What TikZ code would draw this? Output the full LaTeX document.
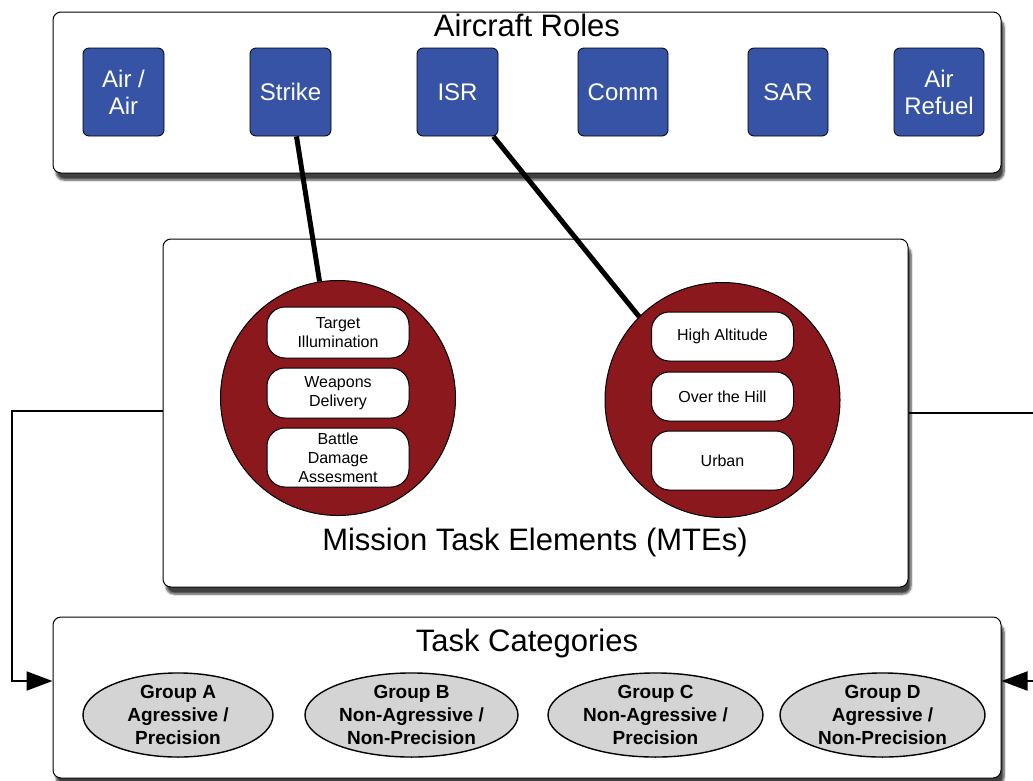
\documentclass[tikz,border=0pt]{standalone}
\usepackage{fontspec}
\setmainfont{Liberation Sans}
\usetikzlibrary{positioning,arrows.meta,shadows.blur,shapes.geometric}

\begin{document}
\begin{tikzpicture}[
  x=1pt, y=-1pt,
  >={Triangle[length=26pt, width=19pt]},
  panel/.style={draw, line width=1pt, rounded corners=8pt, fill=white,
                blur shadow={shadow xshift=3pt, shadow yshift=-7pt,
                             shadow blur steps=6, shadow opacity=75}},
  heading/.style={inner sep=0pt, font=\fontsize{31}{34}\selectfont},
  role/.style={draw, line width=0.8pt, rounded corners=6pt, fill=roleblue,
               text=white, align=center, minimum height=88pt,
               font=\fontsize{24}{27}\selectfont},
  mte/.style={circle, draw, line width=1pt, fill=mtered, minimum size=235pt},
  task/.style={draw, line width=1pt, rounded corners=18pt, fill=white,
               align=center, minimum width=142pt, inner sep=0pt,
               font=\fontsize{16}{19}\selectfont},
  group/.style={ellipse, draw, line width=1.4pt, fill=groupgray, inner sep=0pt,
                minimum height=84pt, align=center,
                font=\bfseries\fontsize{19}{23}\selectfont},
  link/.style={line width=2pt},
  tie/.style={line width=5pt},
]
\definecolor{roleblue}{HTML}{3653A5}
\definecolor{mtered}{HTML}{8B181D}
\definecolor{groupgray}{HTML}{D4D4D4}

\useasboundingbox (0,0) rectangle (1033,780);
\clip (0,0) rectangle (1033,780);

% ============ Aircraft roles (top) ============
\node[panel, minimum width=948pt, minimum height=161pt] (roles) at (527,92.5) {};
\node[heading, anchor=north] (roleslbl) at ([yshift=-2pt]roles.north) {Aircraft Roles};
\node[role, minimum width=81pt] (airair) at (123.5,92) {Air /\\Air};
\node[role, minimum width=81pt] (strike) at (290.5,92) {Strike};
\node[role, minimum width=81pt] (isr)    at (457.5,92) {ISR};
\node[role, minimum width=90pt] (comm)   at (623,92)   {Comm};
\node[role, minimum width=80pt] (sar)    at (788,92)   {SAR};
\node[role, minimum width=90pt] (refuel) at (939,92)   {Air\\Refuel};

% ============ Mission task elements (middle) ============
\node[panel, minimum width=745pt, minimum height=348pt] (mtes) at (535.5,413) {};
\node[heading] (mteslbl) at (535,542) {Mission Task Elements (MTEs)};

% ---- strike MTEs ----
\node[mte] (strikemte) at (338,398) {};
\node[task, minimum height=51pt] (illum) at (338,332.5) {Target\\Illumination};
\node[task, minimum height=50pt, below=9pt of illum] (weapons) {Weapons\\Delivery};
\node[task, minimum height=59pt, below=9pt of weapons] (bda) {Battle\\Damage\\Assesment};

% ---- ISR MTEs ----
\node[mte] (isrmte) at (722.5,400) {};
\node[task, minimum height=49pt] (highalt) at (722.5,336.5) {High Altitude};
\node[task, minimum height=49pt, below=10pt of highalt] (hill) {Over the Hill};
\node[task, minimum height=59pt, below=9pt of hill] (urban) {Urban};

% role -> MTE ties
\draw[tie] ([xshift=6pt]strike.south) -- (strikemte.99);
\draw[tie] ([xshift=-5pt]isr.south east) -- (isrmte.135);

% ============ Task categories (bottom) ============
\node[panel, minimum width=948pt, minimum height=161pt] (cats) at (527,697.5) {};
\node[heading, anchor=north] (catslbl) at ([yshift=-12pt]cats.north) {Task Categories};
\node[group, minimum width=190pt] (grpa) at (178,715) {Group A\\Agressive /\\Precision};
\node[group, minimum width=213pt] (grpb) at (411.5,715) {Group B\\Non-Agressive /\\Non-Precision};
\node[group, minimum width=215pt] (grpc) at (655.5,715) {Group C\\Non-Agressive /\\Precision};
\node[group, minimum width=205pt] (grpd) at (882.5,715) {Group D\\Agressive /\\Non-Precision};

% MTEs feed the task categories
\coordinate (lbend) at (12,0);
\coordinate (rbend) at (1045,0);
\coordinate (catsin) at ([yshift=16.5pt]cats.west);
\coordinate (catsout) at ([yshift=16.5pt]cats.east);
\draw[link, ->] ([yshift=2pt]mtes.west) -- ([yshift=2pt]mtes.west -| lbend) |- (catsin);
\draw[link, ->] (mtes.east) -- (mtes.east -| rbend) |- (catsout);

\end{tikzpicture}
\end{document}
